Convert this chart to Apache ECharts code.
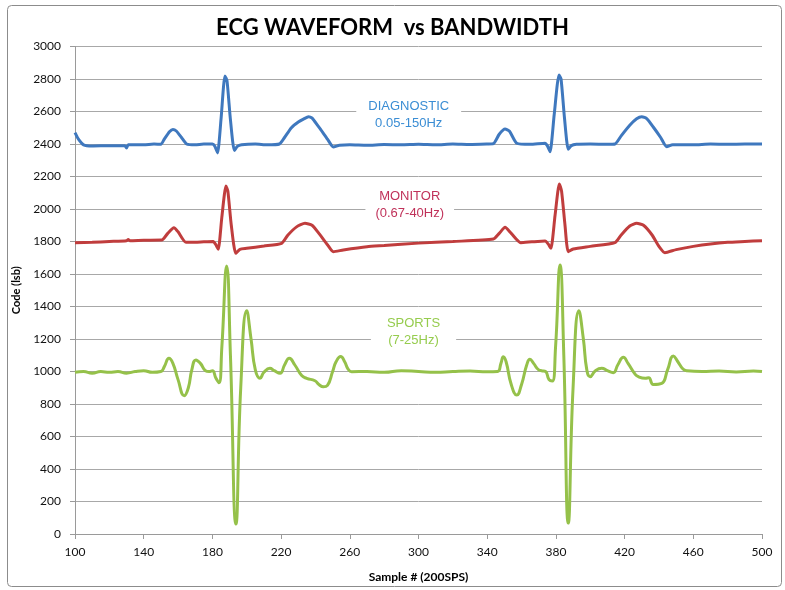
<!DOCTYPE html>
<html><head><meta charset="utf-8">
<script src="https://cdn.jsdelivr.net/npm/echarts@6/dist/echarts.min.js"></script>
<style>html,body{margin:0;padding:0;background:#fff}#c{width:785px;height:590px}</style>
</head><body><div id="c"></div>
<script>
const titleText = 'ECG WAVEFORM  vs BANDWIDTH';
const xAxisName = 'Sample # (200SPS)';
const yAxisName = 'Code (lsb)';
const xTicks = [100,140,180,220,260,300,340,380,420,460,500];
const yMin = 0, yMax = 3000, yStep = 200;

// DIAGNOSTIC 0.05-150Hz
const diagX = [100,102,105,110,120,129,130,131,140,146,150,152,155,157,159,162,165,170,175,180,181.5,183,185,187.3,188.5,190.5,192.8,194.5,197,205,212,219,222,226,230,233,236,238,239.5,243,247,250.4,254,260,270,280,290,300,310,320,330,340,343.6,347,350.4,353,357.2,365,373.7,375,376.6,379,381.8,383,385,387.2,389,392,400,410,414.4,418,423,427,430,433,437,441,444.5,448,460,470,480,490,500];
const diagY = [2470,2430,2395,2388,2390,2390,2375,2395,2395,2400,2398,2430,2475,2490,2480,2440,2400,2395,2400,2400,2385,2345,2550,2818,2790,2550,2360,2385,2395,2400,2395,2400,2440,2500,2535,2553,2568,2560,2540,2490,2430,2382,2392,2395,2392,2397,2395,2398,2395,2400,2397,2400,2402,2460,2492,2478,2405,2398,2405,2390,2353,2580,2825,2800,2560,2367,2390,2398,2400,2398,2400,2450,2515,2555,2568,2555,2500,2440,2383,2395,2395,2400,2398,2400,2400];

// MONITOR 0.67-40Hz
const monX = [100,110,120,130,131,132,140,150.5,154,157.6,160,164.6,170,175,180.5,182,183.4,185.5,187.9,189,191,193.6,196,200,210,220.3,224,229,233.9,238,242,247,250.4,256.2,270,280,300,320,343.6,347,350.4,354,359.5,366,373.7,375.5,377.1,379.5,382,383.3,385.3,387.2,390.1,400,414.4,418,423,427,431,436,440,443.5,450,460,470,480,490,500];
const monY = [1793,1795,1800,1805,1812,1805,1808,1809,1850,1885,1860,1795,1795,1798,1800,1780,1752,1950,2141,2110,1900,1727,1752,1758,1772,1789,1840,1890,1912,1900,1850,1780,1737,1748,1768,1775,1790,1800,1815,1850,1887,1850,1793,1798,1803,1785,1758,1960,2154,2110,1900,1737,1754,1770,1793,1840,1895,1912,1900,1840,1770,1731,1750,1770,1785,1795,1800,1805];

// SPORTS 7-25Hz
const spoX = [100,105,110,115,120,125,130,135,140,145,150,152,154.7,157,160,163.6,166,168,170.4,173,176,178,180,182,183.8,185.5,188.3,190.5,193.7,196.5,200,202.5,205,207.7,210,213.5,216,219.4,222,224.8,228,232,234.9,239.7,242,244.6,247,250,252,254.7,257,259,261.1,270,280,290,300,310,320,330,340,346,348,349.4,351,354,357.2,360,363,364.9,367,370,371.7,374,376,377.9,379.8,382.4,384.6,387.2,390,393.4,396,398,399.9,403,406.7,410,413.4,416,419.3,422,426,428,432,434,436.7,441.6,445,448.4,451,454,456.2,465,475,485,495,500];
const spoY = [995,1000,990,1000,995,1000,990,1000,1005,995,1000,1030,1081,1050,950,851,900,1010,1071,1050,1005,1000,1005,960,931,1150,1650,1100,62,900,1374,1200,1010,958,995,1020,1005,989,1040,1081,1040,975,958,943,920,906,915,1000,1060,1092,1060,1015,999,1000,995,1005,1000,995,1000,1003,998,1000,1050,1091,1060,920,855,920,1040,1075,1050,1010,1005,1000,950,941,1150,1655,1100,67,900,1374,1200,1010,968,1005,1020,1005,993,1040,1087,1050,985,968,958,962,920,927,1010,1095,1060,1015,1005,1000,1003,997,1003,1000];

const annotations = [
  {text: 'DIAGNOSTIC\n0.05-150Hz', x: 294.3, y: 2578, color: '#3a8dd4', pad: [3, 12]},
  {text: 'MONITOR\n(0.67-40Hz)', x: 294.9, y: 2026, color: '#c0325a', pad: [3, 10]},
  {text: 'SPORTS\n(7-25Hz)', x: 297.1, y: 1245, color: '#96cc4e', pad: [3, 16]}
];

const pairs = (xs, ys) => xs.map((x, i) => [x, ys[i]]);
const lineColor = {diag: '#3f78be', mon: '#c03d3d', spo: '#95c14a'};

const chart = echarts.init(document.getElementById('c'), null, {renderer: 'canvas'});
const font = 'Lato, "Open Sans", sans-serif';
chart.setOption({
  animation: false,
  backgroundColor: '#fff',
  title: {text: titleText, left: 'center', top: 12,
    textStyle: {fontFamily: font, fontWeight: 'bold', fontSize: 22, color: '#000'}},
  grid: {left: 75, right: 23, top: 46.5, bottom: 56, containLabel: false},
  xAxis: {type: 'value', min: 100, max: 500,
    name: xAxisName, nameLocation: 'middle', nameGap: 37,
    nameTextStyle: {fontFamily: font, fontWeight: 'bold', fontSize: 12, color: '#000'},
    axisLine: {lineStyle: {color: '#9a9a9a'}},
    axisTick: {show: true, length: 5, lineStyle: {color: '#9a9a9a'}, customValues: xTicks},
    axisLabel: {customValues: xTicks, margin: 12, fontFamily: font, fontSize: 12, color: '#111',
      formatter: v => String(v)},
    splitLine: {show: false}},
  yAxis: {type: 'value', min: yMin, max: yMax, interval: yStep,
    name: yAxisName, nameLocation: 'middle', nameGap: 43, nameRotate: 90,
    nameTextStyle: {fontFamily: font, fontWeight: 'bold', fontSize: 11, color: '#000'},
    axisLine: {show: true, lineStyle: {color: '#9a9a9a'}},
    axisTick: {show: true, length: 5, lineStyle: {color: '#9a9a9a'}},
    axisLabel: {margin: 14, fontFamily: font, fontSize: 12, color: '#111', formatter: v => String(v)},
    splitLine: {show: true, lineStyle: {color: '#a8a8a8', width: 1}}},
  series: [
    {name: 'DIAGNOSTIC', type: 'line', data: pairs(diagX, diagY), showSymbol: false, smooth: 0.2,
      lineStyle: {color: lineColor.diag, width: 3}, itemStyle: {color: lineColor.diag}},
    {name: 'MONITOR', type: 'line', data: pairs(monX, monY), showSymbol: false, smooth: 0.2,
      lineStyle: {color: lineColor.mon, width: 3}, itemStyle: {color: lineColor.mon}},
    {name: 'SPORTS', type: 'line', data: pairs(spoX, spoY), showSymbol: false, smooth: 0.5,
      lineStyle: {color: lineColor.spo, width: 3}, itemStyle: {color: lineColor.spo}}
  ]
});

const g = [{type: 'rect', left: 5, top: 3, shape: {width: 774, height: 581, r: 4},
  style: {fill: 'none', stroke: '#8c8c8c', lineWidth: 1}, silent: true, z: 100}];
annotations.forEach(a => {
  const p = chart.convertToPixel({gridIndex: 0}, [a.x, a.y]);
  g.push({type: 'text', x: p[0], y: p[1], z: 50,
    style: {text: a.text, fill: a.color, font: '13px "Liberation Sans", Arial, sans-serif',
      align: 'center', verticalAlign: 'middle', lineHeight: 17,
      backgroundColor: '#fff', padding: a.pad}});
});
chart.setOption({graphic: g});
</script></body></html>
